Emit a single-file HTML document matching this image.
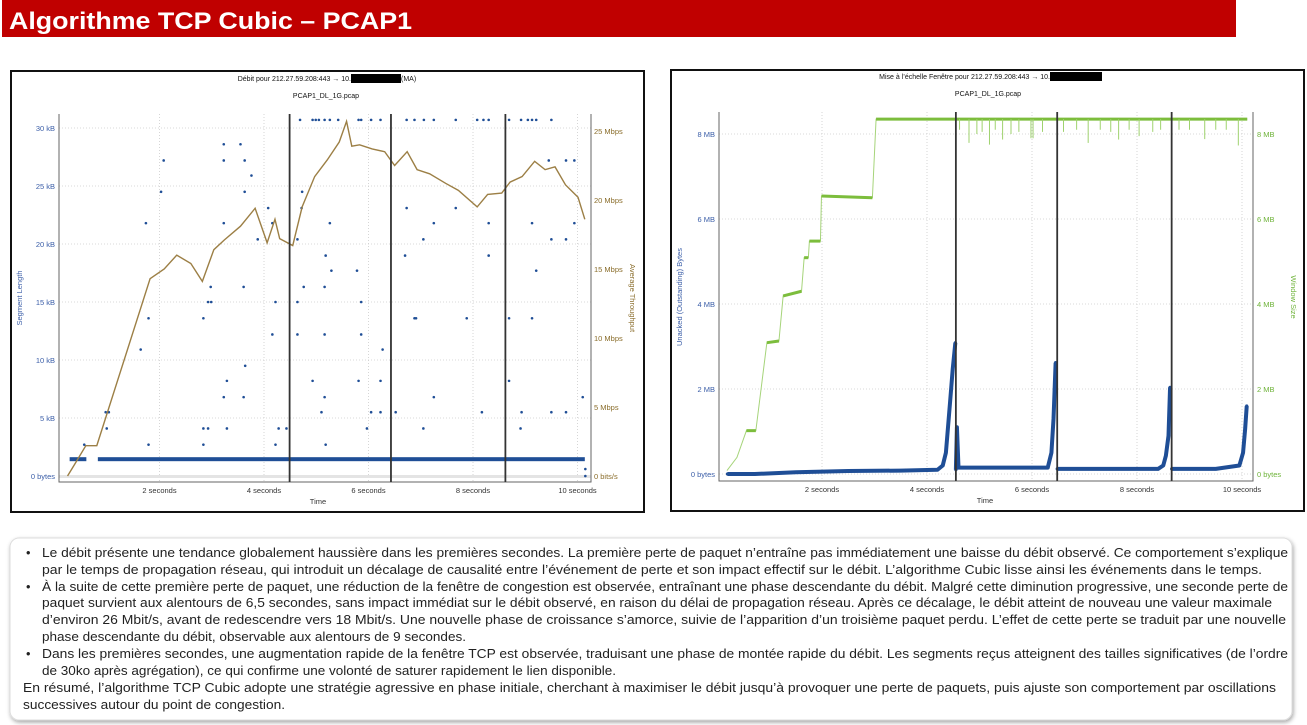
<!DOCTYPE html>
<html><head><meta charset="utf-8"><style>
html,body{margin:0;padding:0;background:#fff;width:1307px;height:725px;overflow:hidden}
svg{position:absolute;left:0;top:0;font-family:"Liberation Sans",sans-serif}
</style></head><body>
<svg id="page" width="1307" height="725" viewBox="0 0 1307 725">
<rect x="2" y="0" width="1234" height="37" fill="#c00000"/>
<text x="9" y="29" fill="#fff" font-size="24" font-weight="bold" textLength="403" lengthAdjust="spacingAndGlyphs">Algorithme TCP Cubic – PCAP1</text>

<rect x="11" y="71" width="633" height="441" fill="#fff" stroke="#111" stroke-width="2"/>
<rect x="671" y="70" width="633" height="441" fill="#fff" stroke="#111" stroke-width="2"/>

<g id="left"></g>
<g id="right"></g>

<filter id="sh" x="-5%" y="-10%" width="110%" height="125%"><feDropShadow dx="1" dy="2" stdDeviation="2" flood-color="#000" flood-opacity="0.35"/></filter>
<rect x="10" y="538" width="1282" height="182" rx="9" fill="#fff" stroke="#ddd" stroke-width="1" filter="url(#sh)"/>
<g font-size="12.8" fill="#222">
<text x="26" y="557">•</text>
<text x="42" y="557" textLength="1246" lengthAdjust="spacingAndGlyphs">Le débit présente une tendance globalement haussière dans les premières secondes. La première perte de paquet n’entraîne pas immédiatement une baisse du débit observé. Ce comportement s’explique</text>
<text x="42" y="574" textLength="1220" lengthAdjust="spacingAndGlyphs">par le temps de propagation réseau, qui introduit un décalage de causalité entre l’événement de perte et son impact effectif sur le débit. L’algorithme Cubic lisse ainsi les événements dans le temps.</text>
<text x="26" y="591">•</text>
<text x="42" y="591" textLength="1246" lengthAdjust="spacingAndGlyphs">À la suite de cette première perte de paquet, une réduction de la fenêtre de congestion est observée, entraînant une phase descendante du débit. Malgré cette diminution progressive, une seconde perte de</text>
<text x="42" y="607" textLength="1230" lengthAdjust="spacingAndGlyphs">paquet survient aux alentours de 6,5 secondes, sans impact immédiat sur le débit observé, en raison du délai de propagation réseau. Après ce décalage, le débit atteint de nouveau une valeur maximale</text>
<text x="42" y="624" textLength="1244" lengthAdjust="spacingAndGlyphs">d’environ 26 Mbit/s, avant de redescendre vers 18 Mbit/s. Une nouvelle phase de croissance s’amorce, suivie de l’apparition d’un troisième paquet perdu. L’effet de cette perte se traduit par une nouvelle</text>
<text x="42" y="641" textLength="424" lengthAdjust="spacingAndGlyphs">phase descendante du débit, observable aux alentours de 9 secondes.</text>
<text x="26" y="658">•</text>
<text x="42" y="658" textLength="1246" lengthAdjust="spacingAndGlyphs">Dans les premières secondes, une augmentation rapide de la fenêtre TCP est observée, traduisant une phase de montée rapide du débit. Les segments reçus atteignent des tailles significatives (de l’ordre</text>
<text x="42" y="675" textLength="574" lengthAdjust="spacingAndGlyphs">de 30ko après agrégation), ce qui confirme une volonté de saturer rapidement le lien disponible.</text>
<text x="23" y="692" textLength="1253" lengthAdjust="spacingAndGlyphs">En résumé, l’algorithme TCP Cubic adopte une stratégie agressive en phase initiale, cherchant à maximiser le débit jusqu’à provoquer une perte de paquets, puis ajuste son comportement par oscillations</text>
<text x="23" y="709" textLength="262" lengthAdjust="spacingAndGlyphs">successives autour du point de congestion.</text>
</g>
</svg>
<script>
// ---------- LEFT CHART DATA ----------
const lxTicks = [2,4,6,8,10];
const lxTickLabels = ["2 seconds","4 seconds","6 seconds","8 seconds","10 seconds"];
const lyTicks = [0,5,10,15,20,25,30];
const lyTickLabels = ["0 bytes","5 kB","10 kB","15 kB","20 kB","25 kB","30 kB"];
const ryTicks = [0,5,10,15,20,25];
const ryTickLabels = ["0 bits/s","5 Mbps","10 Mbps","15 Mbps","20 Mbps","25 Mbps"];
const tpTimes = [0.24,0.4,0.59,0.80,1.82,2.09,2.33,2.6,2.82,3.04,3.24,3.55,3.83,4.06,4.21,4.30,4.55,4.73,4.97,5.21,5.44,5.58,5.68,5.83,6.07,6.31,6.50,6.74,6.93,7.17,7.48,7.72,8.08,8.28,8.55,8.71,8.94,9.18,9.38,9.57,9.77,10.01,10.14];
const tpMbps = [0,1.0,2.2,2.2,14.3,15.0,16.0,15.4,14.1,16.4,17.1,18.1,19.4,16.9,18.6,17.2,16.7,19.5,21.7,22.9,24.2,25.7,23.9,24.0,23.7,23.5,22.5,23.5,22.2,21.9,21.2,20.7,19.5,20.4,20.5,21.3,21.7,22.8,22.2,22.4,21.1,20.2,18.6];
const segTimes = [0.56,0.99,0.97,1.03,1.64,1.74,1.79,1.79,2.03,2.08,2.84,2.93,2.84,2.84,2.93,2.99,2.98,3.23,3.23,3.23,3.29,3.23,3.29,3.55,3.63,3.76,3.63,3.61,3.64,3.61,3.88,4.08,4.16,4.16,4.22,4.22,4.28,4.43,4.64,4.64,4.64,4.69,4.73,4.72,4.76,4.93,4.99,5.05,5.16,5.26,5.42,4.93,5.10,5.16,5.16,5.16,5.18,5.26,5.29,5.18,5.78,5.81,5.86,5.86,5.86,5.81,5.97,6.05,6.05,6.23,6.23,6.23,6.27,6.52,6.70,6.73,6.73,6.88,6.91,6.88,7.05,7.05,7.06,7.25,7.25,7.25,7.67,7.67,7.88,8.08,8.17,8.20,8.30,8.30,8.30,8.69,8.69,8.69,8.91,8.92,8.93,9.05,9.13,9.21,9.13,9.13,9.21,9.45,9.50,9.50,9.50,9.78,9.78,9.78,9.94,9.94,10.10,10.15,10.15];
const segKB = [2.7,4.1,5.5,5.5,10.9,21.8,13.6,2.7,24.5,27.2,4.1,4.1,2.7,13.6,15,15,16.3,28.6,27.2,21.8,8.2,6.8,4.1,28.6,27.2,25.9,24.5,16.3,9.5,6.8,20.4,23.1,21.8,12.2,15,2.7,4.1,4.1,20.4,15,12.2,30.7,24.5,23.1,16.3,30.7,30.7,30.7,30.7,30.7,30.7,8.2,5.5,6.8,12.2,16.3,19.0,21.8,17.7,2.7,17.7,30.7,30.7,15,12.2,8.2,4.1,5.5,30.7,30.7,5.5,8.2,10.9,5.5,19.0,23.1,30.7,13.6,13.6,30.7,20.4,4.1,30.7,30.7,21.8,6.8,30.7,23.1,13.6,30.7,5.5,30.7,30.7,21.8,19,30.7,13.6,8.2,4.1,30.7,5.5,30.7,30.7,30.7,21.8,13.6,17.7,27.2,30.7,20.4,5.5,27.2,20.4,5.5,27.2,21.8,6.8,0.6,0];
const baseStart = [0.28,0.82];
const baseEnd = [0.60,10.14];
const baseKB = [1.45,1.45];
const lossTimesL = [4.49,6.43,8.62];

// ---------- RIGHT CHART DATA ----------
const rxTicks = [2,4,6,8,10];
const rxTickLabels = ["2 seconds","4 seconds","6 seconds","8 seconds","10 seconds"];
const wyTicks = [0,2,4,6,8];
const wyTickLabels = ["0 bytes","2 MB","4 MB","6 MB","8 MB"];
const winTimes = [0.19,0.38,0.56,0.74,0.95,1.18,1.26,1.61,1.66,1.74,1.76,1.97,1.99,2.96,3.03,10.1];
const winMB = [0.08,0.39,1.02,1.02,3.09,3.13,4.19,4.3,5.09,5.09,5.48,5.48,6.54,6.5,8.35,8.35];
const dipTimes = [4.55,4.62,4.8,4.95,5.05,5.19,5.3,5.44,5.6,5.75,5.98,6.02,6.2,6.6,6.85,7.07,7.3,7.5,7.65,7.85,8.04,8.3,8.45,8.8,9.0,9.29,9.5,9.7,9.93];
const dipMB = [7.63,8.1,7.79,8.0,8.05,7.75,8.1,7.87,8.0,8.05,7.9,7.9,8.05,8.05,8.1,7.79,8.1,8.05,7.87,8.1,7.95,8.05,8.1,8.1,8.1,7.88,8.1,8.1,7.73];
const unTimes = [0.2,0.55,0.72,1.5,2.5,3.5,4.2,4.3,4.36,4.44,4.49,4.54];
const unMB = [0,0,0,0.04,0.07,0.08,0.1,0.2,0.5,1.7,2.47,3.09];
const un2Times = [4.55,4.57,4.6,5.5,6.3,6.37,6.41,6.45];
const un2MB = [0.1,1.1,0.15,0.15,0.15,0.5,1.3,2.62];
const un3Times = [6.48,7.5,8.4,8.5,8.55,8.6,8.63];
const un3MB = [0.12,0.12,0.12,0.2,0.43,0.9,2.04];
const un4Times = [8.66,9.5,9.95,10.02,10.06,10.09];
const un4MB = [0.12,0.12,0.2,0.5,1.06,1.6];
const lossTimesR = [4.55,6.48,8.66];

const NS="http://www.w3.org/2000/svg";
function mk(tag, parent, attrs){const e=document.createElementNS(NS,tag);for(const k in attrs)e.setAttribute(k,attrs[k]);parent.appendChild(e);return e;}

// ---------- LEFT ----------
(function(){
const g=document.getElementById('left');
const X=t=>55+t*52.25, YL=k=>476-k*11.6, YR=m=>476-m*13.8;
const L=59,R=591,T=114,B=482;
let e;
e=mk('text',g,{x:351,y:81,'font-size':7,'text-anchor':'end',fill:'#111'});e.textContent='Débit pour 212.27.59.208:443 → 10.';

e=mk('rect',g,{x:351,y:74,width:50,height:9,fill:'#000'});

e=mk('text',g,{x:401,y:81,'font-size':7,fill:'#111'});e.textContent='(MA)';

e=mk('text',g,{x:326,y:98,'font-size':7,'text-anchor':'middle',fill:'#111'});e.textContent='PCAP1_DL_1G.pcap';

lyTicks.forEach((v,i)=>{
 e=mk('line',g,{x1:L,x2:R,y1:YL(v),y2:YL(v),stroke:'#ccc','stroke-dasharray':'1,2','stroke-width':0.8});
 
 e=mk('text',g,{x:55,y:YL(v)+3,'font-size':7.5,'text-anchor':'end',fill:'#3b5ea8'});e.textContent=lyTickLabels[i];
 
});
lxTicks.forEach((v,i)=>{
 e=mk('line',g,{x1:X(v),x2:X(v),y1:T,y2:B,stroke:'#ccc','stroke-dasharray':'1,2','stroke-width':0.8});
 
 e=mk('text',g,{x:X(v),y:493,'font-size':7.5,'text-anchor':'middle',fill:'#333'});e.textContent=lxTickLabels[i];
 
});
ryTicks.forEach((v,i)=>{
 e=mk('text',g,{x:594,y:YR(v)+3,'font-size':7.5,fill:'#8a6d2b'});e.textContent=ryTickLabels[i];
 
});
e=mk('rect',g,{x:L,y:475,width:R-L,height:3,fill:'#e4e4e4'});

e=mk('path',g,{d:`M${L},${T}V${B}H${R}V${T}`,fill:'none',stroke:'#666','stroke-width':1});

e=mk('text',g,{x:318,y:504,'font-size':7.5,'text-anchor':'middle',fill:'#333'});e.textContent='Time';

e=mk('text',g,{x:0,y:0,'font-size':7.5,'text-anchor':'middle',fill:'#3b5ea8',transform:'translate(22,298) rotate(-90)'});e.textContent='Segment Length';

e=mk('text',g,{x:0,y:0,'font-size':7.5,'text-anchor':'middle',fill:'#8a6d2b',transform:'translate(630,298) rotate(90)'});e.textContent='Average Throughput';

baseStart.forEach((s,i)=>{
 e=mk('rect',g,{x:X(s),y:YL(baseKB[i])-2,width:X(baseEnd[i])-X(s),height:4,fill:'#1f4e96'});
 
});
segTimes.forEach((t,i)=>{
 e=mk('circle',g,{cx:X(t),cy:YL(segKB[i]),r:1.3,fill:'#1f4e96'});
 
});
e=mk('polyline',g,{points:tpTimes.map((t,i)=>X(t)+','+YR(tpMbps[i])).join(' '),fill:'none',stroke:'#9c7f45','stroke-width':1.4});

lossTimesL.forEach(t=>{
 e=mk('line',g,{x1:X(t),x2:X(t),y1:T,y2:B,stroke:'#333','stroke-width':1.8});
 
});
})();

// ---------- RIGHT ----------
(function(){
const g=document.getElementById('right');
const X=t=>717+t*52.5, Y=m=>474-m*42.5;
const L=719,R=1253,T=112,B=481;
let e;
e=mk('text',g,{x:1050,y:79,'font-size':7,'text-anchor':'end',fill:'#111'});e.textContent='Mise à l’échelle Fenêtre pour 212.27.59.208:443 → 10.';

e=mk('rect',g,{x:1050,y:72,width:52,height:9,fill:'#000'});

e=mk('text',g,{x:988,y:96,'font-size':7,'text-anchor':'middle',fill:'#111'});e.textContent='PCAP1_DL_1G.pcap';

wyTicks.forEach((v,i)=>{
 e=mk('line',g,{x1:L,x2:R,y1:Y(v),y2:Y(v),stroke:'#ccc','stroke-dasharray':'1,2','stroke-width':0.8});
 
 e=mk('text',g,{x:715,y:Y(v)+3,'font-size':7.5,'text-anchor':'end',fill:'#3b5ea8'});e.textContent=wyTickLabels[i];
 
 e=mk('text',g,{x:1257,y:Y(v)+3,'font-size':7.5,fill:'#6fb33a'});e.textContent=wyTickLabels[i];
 
});
rxTicks.forEach((v,i)=>{
 e=mk('line',g,{x1:X(v),x2:X(v),y1:T,y2:B,stroke:'#ccc','stroke-dasharray':'1,2','stroke-width':0.8});
 
 e=mk('text',g,{x:X(v),y:492,'font-size':7.5,'text-anchor':'middle',fill:'#333'});e.textContent=rxTickLabels[i];
 
});
e=mk('path',g,{d:`M${L},${T}V${B}H${R}V${T}`,fill:'none',stroke:'#666','stroke-width':1});

e=mk('text',g,{x:985,y:503,'font-size':7.5,'text-anchor':'middle',fill:'#333'});e.textContent='Time';

e=mk('text',g,{x:0,y:0,'font-size':7.5,'text-anchor':'middle',fill:'#3b5ea8',transform:'translate(682,297) rotate(-90)'});e.textContent='Unacked (Outstanding) Bytes';

e=mk('text',g,{x:0,y:0,'font-size':7.5,'text-anchor':'middle',fill:'#6fb33a',transform:'translate(1291,297) rotate(90)'});e.textContent='Window Size';

let d='';
winTimes.forEach((t,i)=>{d+=(i?'L':'M')+X(t)+','+Y(winMB[i]);});
e=mk('path',g,{d:d,fill:'none',stroke:'#a6d47a','stroke-width':1});

winTimes.forEach((t,i)=>{
 if(i>0 && Math.abs(winMB[i]-winMB[i-1])<0.15 && t-winTimes[i-1]>0.05){
  e=mk('line',g,{x1:X(winTimes[i-1]),x2:X(t),y1:Y(winMB[i-1]),y2:Y(winMB[i]),stroke:'#7cbd3c','stroke-width':3});
  
 }
});
dipTimes.forEach((t,i)=>{
 e=mk('line',g,{x1:X(t),x2:X(t),y1:Y(8.35),y2:Y(dipMB[i]),stroke:'#9fd26e','stroke-width':1});
 
});
[[unTimes,unMB],[un2Times,un2MB],[un3Times,un3MB],[un4Times,un4MB]].forEach(([ts,vs])=>{
 e=mk('polyline',g,{points:ts.map((t,i)=>X(t)+','+Y(vs[i])).join(' '),fill:'none',stroke:'#1f4e96','stroke-width':4,'stroke-linejoin':'round'});
 
 ts.forEach((t,i)=>{
  e=mk('circle',g,{cx:X(t),cy:Y(vs[i]),r:1.6,fill:'#1f4e96'});
  
 });
});
lossTimesR.forEach(t=>{
 e=mk('line',g,{x1:X(t),x2:X(t),y1:T,y2:B,stroke:'#333','stroke-width':1.8});
 
});
})();
</script>
</body></html>
